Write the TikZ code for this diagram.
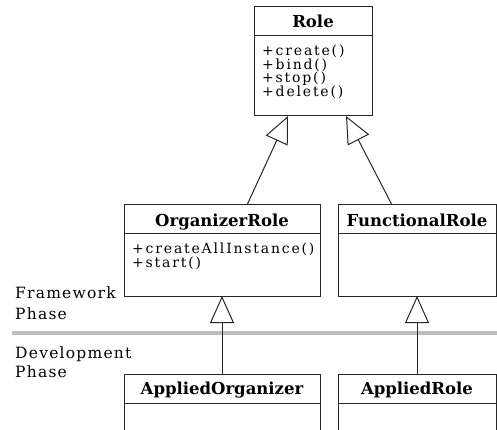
\documentclass[tikz,border=0pt]{standalone}
\usepackage{fontspec}
\setmainfont{DejaVu Serif}
\newfontfamily\opfont[LetterSpace=13]{DejaVu Serif}
\newfontfamily\phasefont[LetterSpace=8]{DejaVu Serif}
\usetikzlibrary{arrows.meta}
\tikzset{
	classbox/.style={draw=black!85, line width=1pt, inner sep=0pt, outer sep=0pt},
	classname/.style={font=\fontsize{16.5}{18}\selectfont\bfseries, anchor=base, inner sep=0pt},
	op/.style={font=\opfont\fontsize{14}{15}\selectfont, anchor=base west, inner sep=0pt},
	phase/.style={font=\phasefont\fontsize{15.5}{17}\selectfont, anchor=base west, inner sep=0pt},
	inherit/.style={draw=black!85, line width=1pt, -{Triangle[open, length=27pt, width=24pt]}},
}
\def\headline(#1)(#2){\draw[line width=1pt, color=black!85] ([yshift=-#2]#1.north west) -- ([yshift=-#2]#1.north east);}

\begin{document}
\begin{tikzpicture}[x=1pt, y=-1pt]
			%%%%% START %%%%%
			\useasboundingbox (0, 0) rectangle (497, 430);
			\clip (0, 0) rectangle (497, 430);
			
			\node[classbox, minimum width=118pt, minimum height=109pt] (role) at (313, 61.5) {};
			\headline(role)(29pt)
			\node[classname] (role-name) at ([yshift=-21pt]role.north) {Role};
			\node[op] (role-create) at (262, 56) {+create()};
			\node[op] (role-bind) at (262, 69.5) {+bind()};
			\node[op] (role-stop) at (262, 83) {+stop()};
			\node[op] (role-delete) at (262, 96.5) {+delete()};
			
			\node[classbox, minimum width=196pt, minimum height=91pt] (organizer) at (222, 250.5) {};
			\headline(organizer)(28pt)
			\node[classname] (organizer-name) at ([yshift=-21pt]organizer.north) {OrganizerRole};
			\node[op] (organizer-create) at (132, 253) {+createAllInstance()};
			\node[op] (organizer-start) at (132, 267) {+start()};
			
			\node[classbox, minimum width=158pt, minimum height=91pt] (functional) at (417, 250.5) {};
			\headline(functional)(28pt)
			\node[classname] (functional-name) at ([yshift=-21pt]functional.north) {FunctionalRole};
			
			\node[phase] (framework) at (15, 298) {Framework};
			\node[phase] (framework-phase) at (15, 319) {Phase};
			\draw[line width=3.5pt, color=black!25] (12, 333) -- (497, 333);
			\node[phase] (development) at (15, 358) {Development};
			\node[phase] (development-phase) at (15, 377) {Phase};
			
			\node[classbox, minimum width=196pt, minimum height=86pt] (applorg) at (222, 417) {};
			\headline(applorg)(29pt)
			\node[classname] (applorg-name) at ([yshift=-20pt]applorg.north) {AppliedOrganizer};
			
			\node[classbox, minimum width=158pt, minimum height=86pt] (applrole) at (417, 417) {};
			\headline(applrole)(29pt)
			\node[classname] (applrole-name) at ([yshift=-20pt]applrole.north) {AppliedRole};
			
			\draw[inherit] ([xshift=25pt]organizer.north) -- ([xshift=-25pt]role.south);
			\draw[inherit] ([xshift=-25pt]functional.north) -- ([xshift=33pt]role.south);
			\draw[inherit] (applorg.north) -- (organizer.south);
			\draw[inherit] (applrole.north) -- (functional.south);
			
			%%%%% END %%%%%
\end{tikzpicture}
\end{document}
